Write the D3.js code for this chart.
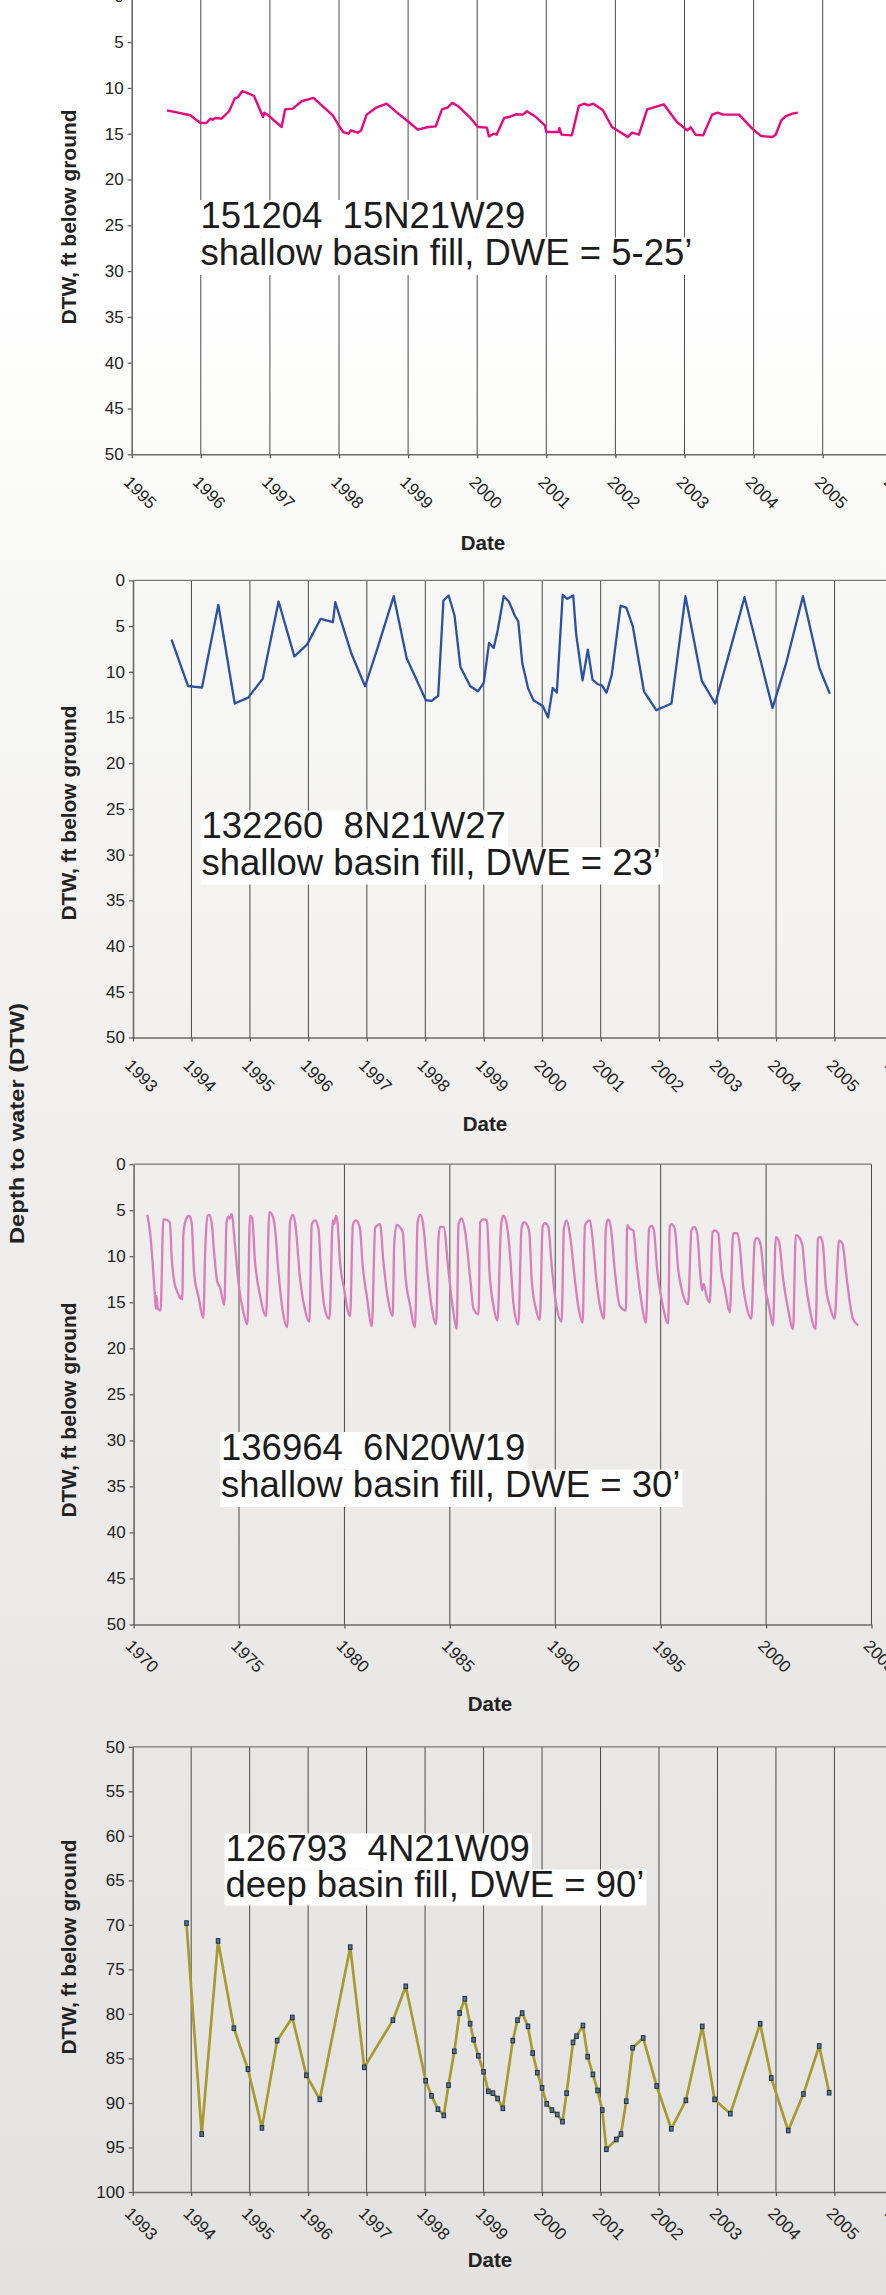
<!DOCTYPE html>
<html>
<head>
<meta charset="utf-8">
<script src="https://cdn.jsdelivr.net/npm/d3@7"></script>
<style>
body { margin: 0; overflow: hidden; }
svg { display: block; font-family: "Liberation Sans", Arial, sans-serif; }
</style>
</head>
<body>
<svg id="chart" width="886" height="2295"></svg>
<script>
// well 151204 15N21W29
var well1Dates = [1995.51,1995.85,1995.91,1996.0,1996.08,1996.14,1996.17,1996.21,1996.30,1996.41,1996.49,1996.54,1996.60,1996.66,1996.77,1996.90,1996.92,1996.975,1997.17,1997.22,1997.33,1997.46,1997.63,1997.75,1997.91,1998.01,1998.06,1998.14,1998.17,1998.27,1998.32,1998.40,1998.53,1998.69,1998.84,1999.01,1999.14,1999.29,1999.40,1999.49,1999.57,1999.64,1999.72,1999.89,2000.01,2000.14,2000.17,2000.24,2000.28,2000.39,2000.46,2000.56,2000.66,2000.72,2000.85,2000.98,2001.0,2001.18,2001.19,2001.22,2001.37,2001.47,2001.55,2001.61,2001.68,2001.82,2001.95,2002.18,2002.24,2002.34,2002.46,2002.70,2002.89,2003.04,2003.09,2003.16,2003.27,2003.40,2003.48,2003.56,2003.79,2003.98,2004.11,2004.27,2004.32,2004.40,2004.47,2004.56,2004.64];
var well1Depth = [12.45,12.99,13.36,13.83,13.83,13.36,13.47,13.28,13.36,12.55,11.17,10.99,10.36,10.51,10.88,13.18,12.70,13.0,14.27,12.34,12.26,11.46,11.09,11.90,12.99,14.27,14.82,15.0,14.64,14.89,14.64,12.92,12.19,11.72,12.70,13.72,14.56,14.27,14.2,12.34,12.15,11.64,11.97,13.18,14.27,14.34,15.29,15.0,15.11,13.28,13.18,12.88,12.92,12.55,13.18,14.09,14.82,14.82,14.38,15.1,15.18,11.97,11.72,11.9,11.72,12.45,14.27,15.36,14.89,15.11,12.34,11.79,13.72,14.64,14.31,15.11,15.18,12.92,12.70,12.92,12.92,14.45,15.26,15.36,15.11,13.54,13.07,12.81,12.70];

// well 132260 8N21W27
var well2Dates = [1993.66,1993.94,1994.18,1994.46,1994.74,1994.97,1995.22,1995.49,1995.76,1995.98,1996.21,1996.42,1996.46,1996.73,1996.97,1997.18,1997.46,1997.68,1998.01,1998.11,1998.22,1998.31,1998.40,1998.50,1998.60,1998.77,1998.90,1999.0,1999.09,1999.17,1999.24,1999.34,1999.43,1999.53,1999.59,1999.66,1999.76,1999.85,2000.01,2000.10,2000.18,2000.25,2000.35,2000.43,2000.53,2000.58,2000.69,2000.78,2000.86,2000.95,2001.02,2001.10,2001.19,2001.34,2001.44,2001.55,2001.74,2001.95,2002.21,2002.45,2002.73,2002.96,2003.25,2003.46,2003.94,2004.17,2004.46,2004.74,2004.92];
var well2Depth = [6.49,11.55,11.73,2.67,13.47,12.82,10.75,2.31,8.31,7.0,4.2,4.56,2.38,7.91,11.58,7.47,1.73,8.49,13.11,13.18,12.64,2.2,1.65,3.84,9.47,11.58,12.13,11.22,6.85,7.4,5.4,1.73,2.31,3.84,4.49,9.1,11.84,13.11,13.73,15.0,11.76,12.27,1.58,2.02,1.65,5.84,10.93,7.58,10.85,11.36,11.47,12.27,10.31,2.75,3.0,5.04,12.13,14.2,13.47,1.73,11.0,13.47,6.75,1.84,13.95,9.11,1.73,9.58,12.4];

// well 136964 6N20W19
var well3Dates = [1970.65,1970.78,1970.90,1971.01,1971.06,1971.09,1971.14,1971.22,1971.28,1971.41,1971.46,1971.72,1971.80,1971.93,1972.12,1972.23,1972.28,1972.31,1972.36,1972.47,1972.63,1972.75,1972.88,1973.07,1973.31,1973.39,1973.51,1973.59,1973.70,1973.83,1973.97,1974.10,1974.30,1974.41,1974.49,1974.57,1974.65,1974.81,1974.97,1975.21,1975.40,1975.52,1975.62,1975.76,1976.00,1976.28,1976.44,1976.55,1976.71,1976.87,1977.07,1977.29,1977.42,1977.55,1977.66,1977.90,1978.09,1978.34,1978.45,1978.61,1978.77,1978.89,1979.05,1979.29,1979.45,1979.51,1979.60,1979.67,1979.79,1980.00,1980.11,1980.27,1980.40,1980.55,1980.74,1980.85,1981.06,1981.30,1981.46,1981.69,1981.85,1982.09,1982.29,1982.36,1982.48,1982.61,1982.77,1982.88,1983.12,1983.35,1983.47,1983.59,1983.72,1983.94,1984.15,1984.35,1984.46,1984.54,1984.70,1984.94,1985.17,1985.33,1985.41,1985.57,1985.73,1985.97,1986.12,1986.36,1986.44,1986.57,1986.76,1986.88,1987.07,1987.26,1987.42,1987.52,1987.61,1987.73,1987.88,1988.01,1988.25,1988.40,1988.51,1988.64,1988.77,1988.88,1989.08,1989.27,1989.40,1989.51,1989.67,1989.83,1990.03,1990.30,1990.41,1990.54,1990.70,1990.93,1991.09,1991.30,1991.41,1991.64,1991.77,1991.96,1992.12,1992.31,1992.40,1992.51,1992.62,1992.83,1993.06,1993.35,1993.41,1993.54,1993.70,1993.85,1994.09,1994.30,1994.45,1994.57,1994.68,1994.83,1995.07,1995.36,1995.43,1995.51,1995.67,1995.83,1996.03,1996.30,1996.46,1996.59,1996.73,1996.90,1996.97,1997.04,1997.17,1997.33,1997.46,1997.57,1997.73,1997.88,1998.04,1998.28,1998.44,1998.63,1998.75,1998.91,1999.07,1999.30,1999.46,1999.57,1999.73,1999.94,2000.14,2000.33,2000.46,2000.62,2000.81,2001.04,2001.28,2001.41,2001.56,2001.72,2001.88,2002.07,2002.35,2002.46,2002.57,2002.70,2002.83,2003.02,2003.25,2003.46,2003.62,2003.81,2003.97,2004.12,2004.36];
var well3Depth = [5.5,7.4,10.6,14.3,15.7,14.3,15.7,15.8,15.9,6.0,6.0,6.3,9.9,12.8,14.1,14.6,14.3,14.7,7.7,6.1,5.6,6.3,12.1,14.3,16.7,9.9,5.6,5.5,6.3,9.9,12.8,13.4,15.3,6.3,5.7,5.9,5.4,8.8,12.8,16.1,17.4,5.6,5.8,10.6,14.3,16.5,5.2,5.4,7.0,11.7,15.9,17.7,6.3,5.5,6.3,12.5,15.4,17.1,6.5,6.1,7.0,11.7,15.5,16.8,6.1,6.5,5.6,6.3,10.6,13.7,15.4,16.5,6.6,6.1,7.0,10.6,14.3,17.6,6.9,6.5,10.6,15.0,16.5,8.8,6.6,6.8,7.4,11.7,15.4,17.7,6.3,5.5,6.3,11.7,15.7,17.4,8.1,6.8,6.8,11.7,16.1,17.9,6.5,5.9,7.4,12.5,15.7,16.3,6.3,6.0,6.1,11.7,15.4,17.0,7.0,5.6,5.8,7.0,10.6,15.0,17.4,7.0,6.3,6.5,7.4,12.5,15.7,16.9,6.8,6.4,6.8,11.0,15.0,17.1,7.0,6.1,7.7,12.5,15.4,17.2,6.6,6.1,8.1,12.8,15.4,16.8,7.0,6.0,6.6,11.7,15.4,15.9,6.6,7.0,7.2,10.6,15.0,17.2,7.0,6.7,7.2,11.4,15.0,17.3,6.8,6.5,7.0,11.4,13.9,15.2,7.2,6.8,7.5,12.5,13.7,13.0,14.3,15.0,7.4,7.2,7.5,11.7,13.5,16.1,7.5,7.5,8.8,13.2,15.4,16.8,8.4,8.0,8.6,13.2,15.5,17.5,7.9,8.5,12.5,15.7,17.9,7.7,7.9,8.8,12.8,15.7,17.9,8.1,7.9,8.8,13.2,15.4,16.8,8.3,8.6,12.1,15.0,16.8,17.5];

// well 126793 4N21W09
var well4Dates = [1993.92,1994.18,1994.46,1994.73,1994.97,1995.21,1995.47,1995.73,1995.97,1996.20,1996.72,1996.96,1997.45,1997.67,1998.01,1998.11,1998.22,1998.32,1998.40,1998.50,1998.59,1998.68,1998.77,1998.83,1998.91,1999.0,1999.08,1999.16,1999.24,1999.33,1999.50,1999.58,1999.66,1999.76,1999.84,1999.92,2000.0,2000.08,2000.17,2000.26,2000.35,2000.42,2000.53,2000.59,2000.70,2000.78,2000.87,2000.95,2001.03,2001.10,2001.27,2001.35,2001.44,2001.55,2001.73,2001.96,2002.21,2002.46,2002.74,2002.95,2003.22,2003.73,2003.92,2004.21,2004.47,2004.74,2004.91];
var well4Depth = [69.8,93.5,71.8,81.6,86.2,92.8,83.0,80.4,86.9,89.6,72.5,86.0,80.7,76.9,87.5,89.2,90.7,91.4,88.0,84.2,79.9,78.3,81.1,82.9,84.7,86.5,88.7,88.9,89.5,90.6,83.0,80.7,79.9,81.4,84.4,86.6,88.3,90.1,90.8,91.3,92.1,88.9,83.2,82.5,81.3,84.8,86.8,88.6,90.8,95.2,94.1,93.5,89.8,83.8,82.7,88.1,92.9,89.7,81.4,89.6,91.2,81.1,87.2,93.1,89.0,83.6,88.85];

var well1Label = ["151204  15N21W29", "shallow basin fill, DWE = 5-25\u2019"];
var well2Label = ["132260  8N21W27", "shallow basin fill, DWE = 23\u2019"];
var well3Label = ["136964  6N20W19", "shallow basin fill, DWE = 30\u2019"];
var well4Label = ["126793  4N21W09", "deep basin fill, DWE = 90\u2019"];

var well1YearTicks = d3.range(1995, 2007);
var well2YearTicks = d3.range(1993, 2007);
var well3YearTicks = d3.range(1970, 2006, 5);
var well4YearTicks = d3.range(1993, 2007);
var shallowDepthTicks = d3.range(0, 51, 5);
var deepDepthTicks = d3.range(50, 101, 5);

var yTitle = "DTW, ft below ground";
var xTitle = "Date";
var mainTitle = "Depth to water (DTW)";

// layout of the four stacked charts (pixels)
var panels = [
    {dates: well1Dates, depths: well1Depth, label: well1Label, xTicks: well1YearTicks, yTicks: shallowDepthTicks,
     left: 131.7, right: 891.8, top: -3.7, bottom: 454.3, lblOff: 29,
     color: "#e6087f", lw: 2.4, curve: d3.curveLinear, markers: false,
     textX: 200.5, textY: 227.5, lineGap: 37.5, dateX: 483, dateY: 550, titleY: 217},
    {dates: well2Dates, depths: well2Depth, label: well2Label, xTicks: well2YearTicks, yTicks: shallowDepthTicks,
     left: 133, right: 893, top: 580.4, bottom: 1037.5, lblOff: 29,
     color: "#2c51a4", lw: 2.3, curve: d3.curveLinear, markers: false,
     textX: 201.5, textY: 838, lineGap: 37, dateX: 485, dateY: 1131, titleY: 813},
    {dates: well3Dates, depths: well3Depth, label: well3Label, xTicks: well3YearTicks, yTicks: shallowDepthTicks,
     left: 133.6, right: 871.5, top: 1164.2, bottom: 1624.5, lblOff: 22.5,
     color: "#dc7dba", lw: 2.3, curve: d3.curveMonotoneX, markers: false,
     textX: 221, textY: 1459.5, lineGap: 37.5, dateX: 490, dateY: 1711, titleY: 1410},
    {dates: well4Dates, depths: well4Depth, label: well4Label, xTicks: well4YearTicks, yTicks: deepDepthTicks,
     left: 132.7, right: 892.9, top: 1746.8, bottom: 2192, lblOff: 22.5,
     color: "#a69a30", lw: 2.7, curve: d3.curveLinear, markers: true,
     textX: 225.5, textY: 1861, lineGap: 36, dateX: 490, dateY: 2267, titleY: 1947}
];

var svg = d3.select("#chart");

var grad = svg.append("defs").append("linearGradient")
    .attr("id", "bg").attr("x1", 0).attr("y1", 0).attr("x2", 0).attr("y2", 1);
[[0, "#ffffff"], [0.13, "#ffffff"], [0.25, "#f8f8f6"], [0.5, "#f0efed"], [0.75, "#e9e8e6"], [1, "#e3e2e0"]]
    .forEach(function(s){
        grad.append("stop").attr("offset", s[0]).attr("stop-color", s[1]);
    });
svg.append("rect").attr("width", 886).attr("height", 2295).attr("fill", "url(#bg)");

panels.forEach(function(p){
    var x = d3.scaleLinear().domain([p.xTicks[0], p.xTicks[p.xTicks.length-1]]).range([p.left, p.right]);
    var y = d3.scaleLinear().domain([p.yTicks[0], p.yTicks[p.yTicks.length-1]]).range([p.top, p.bottom]);
    var g = svg.append("g");

    // vertical grid
    g.selectAll(".grid").data(p.xTicks.slice(1)).enter().append("line")
        .attr("x1", function(d){ return x(d); })
        .attr("x2", function(d){ return x(d); })
        .attr("y1", p.top).attr("y2", p.bottom)
        .attr("stroke", "#4a4a4a").attr("stroke-width", 1);

    // top border
    g.append("line")
        .attr("x1", p.left).attr("x2", p.right)
        .attr("y1", p.top).attr("y2", p.top)
        .attr("stroke", "#777").attr("stroke-width", 1.3);

    // text block with white background behind each line
    var fs = 36.5;
    var boxes = g.append("g");
    var txt = g.append("g");
    p.label.forEach(function(s, i){
        var by = p.textY + i*p.lineGap;
        var t = txt.append("text")
            .attr("x", p.textX).attr("y", by)
            .attr("font-size", fs)
            .attr("fill", "#1c1c1c")
            .attr("xml:space", "preserve")
            .style("white-space", "pre")
            .text(s);
        var w = t.node().getComputedTextLength();
        boxes.append("rect")
            .attr("x", p.textX - 1).attr("y", by - 27.5)
            .attr("width", w + 3).attr("height", p.lineGap)
            .attr("fill", "#ffffff");
    });

    // axes
    var yAxis = g.append("g")
        .attr("transform", "translate(" + p.left + ",0)")
        .call(d3.axisLeft(y).tickValues(p.yTicks).tickSize(4).tickSizeOuter(0).tickPadding(4));
    yAxis.selectAll("text").attr("font-size", 17).attr("fill", "#222").attr("font-family", "Liberation Sans, Arial, sans-serif");

    var xAxis = g.append("g")
        .attr("transform", "translate(0," + p.bottom + ")")
        .call(d3.axisBottom(x).tickValues(p.xTicks).tickFormat(d3.format("d")).tickSize(4).tickSizeOuter(0));
    xAxis.selectAll("text")
        .attr("y", 0).attr("dy", 0)
        .attr("text-anchor", "start")
        .attr("transform", "translate(-9.5," + p.lblOff + ") rotate(45)")
        .attr("font-size", 17).attr("fill", "#222").attr("font-family", "Liberation Sans, Arial, sans-serif");

    [yAxis, xAxis].forEach(function(a){
        a.select(".domain").attr("stroke", "#6a6a6a").attr("stroke-width", 1.6);
        a.selectAll(".tick line").attr("stroke", "#555").attr("stroke-width", 1.2);
    });

    // series
    var pts = p.dates.map(function(d, i){ return [d, p.depths[i]]; });
    var line = d3.line()
        .x(function(d){ return x(d[0]); })
        .y(function(d){ return y(d[1]); })
        .curve(p.curve);
    g.append("path").datum(pts)
        .attr("d", line)
        .attr("fill", "none")
        .attr("stroke", p.color)
        .attr("stroke-width", p.lw)
        .attr("stroke-linejoin", "round");

    if (p.markers){
        g.selectAll(".mk").data(pts).enter().append("rect")
            .attr("x", function(d){ return x(d[0]) - 1.8; })
            .attr("y", function(d){ return y(d[1]) - 2.3; })
            .attr("width", 3.6).attr("height", 4.6)
            .attr("fill", "#60738a").attr("stroke", "#1c2e48").attr("stroke-width", 1);
    }

    // axis titles
    g.append("text")
        .attr("x", p.dateX).attr("y", p.dateY)
        .attr("text-anchor", "middle")
        .attr("font-size", 20.5).attr("font-weight", "bold").attr("fill", "#222")
        .text(xTitle);

    g.append("text")
        .attr("transform", "translate(76," + p.titleY + ") rotate(-90)")
        .attr("text-anchor", "middle")
        .attr("font-size", 19.5).attr("font-weight", "bold").attr("fill", "#222")
        .attr("textLength", 215).attr("lengthAdjust", "spacingAndGlyphs")
        .text(yTitle);
});

svg.append("text")
    .attr("transform", "translate(24,1123.5) rotate(-90)")
    .attr("text-anchor", "middle")
    .attr("font-size", 19.5).attr("font-weight", "bold").attr("fill", "#222")
    .attr("textLength", 241).attr("lengthAdjust", "spacingAndGlyphs")
    .text(mainTitle);
</script>
</body>
</html>
